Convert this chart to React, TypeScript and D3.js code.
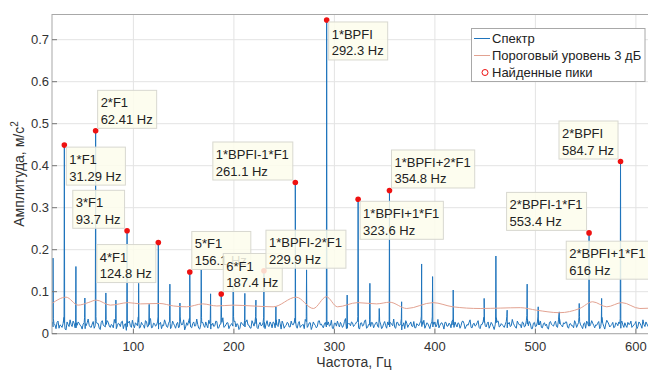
import React from "react";
import * as d3 from "d3";

const W = 648;
const H = 370;
const plot = { left: 52, top: 14.5, right: 656, bottom: 333.7 };
const FONT = "'Liberation Sans', Arial, sans-serif";

// labelled peaks (found peaks with data tips)
const peakNames = [
  "1*F1", "2*F1", "3*F1", "4*F1", "5*F1", "6*F1", "1*BPFI-2*F1", "1*BPFI-1*F1",
  "1*BPFI", "1*BPFI+1*F1", "1*BPFI+2*F1", "2*BPFI-1*F1", "2*BPFI", "2*BPFI+1*F1",
];
const peakFreqs = [31.29, 62.41, 93.7, 124.8, 156.1, 187.4, 229.9, 261.1, 292.3, 323.6, 354.8, 553.4, 584.7, 616];
const peakAmps = [0.449, 0.483, 0.245, 0.217, 0.147, 0.0945, 0.15, 0.36, 0.747, 0.32, 0.341, 0.24, 0.41, 0.225];
const tipSides = ["se", "ne", "nw", "sw", "ne", "ne", "ne", "nw", "se", "se", "ne", "nw", "nw", "sw"];

// smaller spectral lines without tips
const minorFreqs = [
  20, 42.8, 51.7, 72.6, 82.6, 105.2, 115.7, 136.3, 146.3, 167.5, 176.8, 199.3, 210.9, 221.9,
  241.8, 272.3, 312.7, 335.3, 344.6, 366.9, 386.8, 397.7, 418.2, 449, 460.7, 471.9, 491.8,
  502.8, 523.7, 543.6, 565.9,
];
const minorAmps = [
  0.18, 0.16, 0.085, 0.097, 0.08, 0.12, 0.07, 0.118, 0.073, 0.154, 0.095, 0.113, 0.096, 0.08,
  0.064, 0.152, 0.092, 0.12, 0.06, 0.076, 0.166, 0.136, 0.104, 0.084, 0.185, 0.056, 0.118,
  0.064, 0.052, 0.072, 0.084,
];

// noise floor, thousandths of m/s^2: even bins from 19 Hz, odd bins from 20 Hz, 2 Hz apart
const noiseStep = 2;
const noiseStartA = 19;
const noiseMilliA = [
  18, 24, 12, 30, 21, 15, 27, 9, 22, 33, 17, 25, 14, 28, 20,
  11, 26, 19, 35, 16, 23, 13, 29, 24, 10, 31, 18, 22, 27, 15,
  20, 34, 12, 25, 17, 30, 21, 8, 26, 19, 32, 14, 23, 28, 16,
  22, 13, 29, 18, 36, 15, 24, 20, 11, 27, 21, 33, 17, 25, 12,
  30, 19, 23, 14, 28, 22, 9, 26, 31, 16, 24, 18, 35, 13, 21,
  27, 15, 20, 32, 11, 25, 19, 29, 14, 23, 38, 17, 26, 12, 22,
  18, 30, 24, 10, 27, 21, 16, 33, 20, 13, 25, 29, 15, 22, 19,
  26, 12, 31, 17, 23, 28, 14, 20, 35, 11, 24, 18, 27, 16, 30,
  21, 25, 13, 29, 19, 22, 34, 15, 26, 10, 28, 20, 17, 31, 23,
  14, 27, 21, 18, 32, 12, 25, 30, 16, 22, 19, 36, 13, 24, 28,
  17, 23, 29, 11, 26, 20, 33, 15, 21, 27, 14, 25, 18, 30, 12,
  24, 19, 28, 16, 22, 35, 13, 27, 20, 9, 26, 31, 15, 23, 18,
  29, 14, 21, 25, 17, 32, 19, 24, 12, 28, 22, 16, 34, 20, 26,
  11, 27, 18, 23, 30, 15, 21, 26, 13, 29, 24, 17, 20, 33, 14,
  25, 20, 31, 12, 22, 27, 16, 28, 19, 23, 10, 26, 30, 18, 21,
  15, 29, 23, 17, 34, 20, 13, 25, 22, 28, 16, 31, 19, 24, 12,
  27, 18, 21, 30, 14, 26, 23, 11, 29, 20, 25, 17, 33, 22, 16,
  23, 28, 13, 24, 19, 31, 15, 27, 21, 12, 26, 30, 18, 22, 25,
  14, 20, 29, 17, 25, 11, 32, 23, 19, 27, 16, 24, 28, 13, 21,
  26, 15, 22, 30, 18, 24, 12, 28, 20, 33, 17, 23, 14, 27, 19,
];
const noiseStartB = 20;
const noiseMilliB = [
  16, 21, 27, 13, 19, 24, 11, 28, 17, 22, 30, 14, 20, 25, 18,
  23, 12, 26, 20, 15, 29, 19, 24, 13, 27, 21, 16, 31, 18, 22,
  14, 25, 19, 23, 28, 12, 24, 17, 30, 15, 21, 26, 19, 13, 27,
  20, 31, 16, 22, 14, 25, 18, 28, 23, 12, 19, 26, 15, 30, 17,
  24, 13, 27, 18, 21, 33, 16, 20, 25, 14, 28, 19, 22, 11, 26,
  19, 28, 14, 24, 20, 17, 30, 13, 22, 27, 15, 21, 26, 18, 24,
  29, 16, 22, 13, 25, 19, 28, 21, 14, 31, 18, 24, 12, 27, 20,
  15, 23, 19, 28, 14, 26, 21, 17, 24, 30, 13, 20, 25, 16, 22,
  27, 18, 24, 15, 21, 12, 29, 19, 26, 17, 23, 14, 30, 21, 18,
  23, 16, 28, 20, 13, 25, 18, 22, 27, 15, 29, 12, 24, 19, 26,
  21, 28, 14, 25, 18, 30, 13, 22, 17, 26, 20, 28, 15, 23, 16,
  29, 13, 21, 26, 19, 15, 27, 20, 24, 18, 12, 25, 21, 28, 17,
  14, 24, 19, 30, 22, 13, 26, 18, 23, 16, 28, 21, 14, 25, 20,
  27, 18, 25, 14, 21, 28, 16, 24, 19, 30, 12, 22, 27, 15, 23,
  18, 26, 15, 22, 29, 20, 24, 13, 27, 17, 21, 28, 16, 24, 19,
  22, 14, 27, 19, 25, 16, 30, 21, 14, 26, 18, 23, 29, 12, 25,
  17, 28, 21, 15, 24, 19, 13, 27, 22, 18, 30, 15, 24, 20, 26,
  28, 16, 23, 19, 14, 26, 21, 29, 17, 24, 13, 25, 18, 31, 20,
  21, 25, 12, 27, 18, 23, 28, 16, 22, 14, 26, 19, 24, 30, 15,
  19, 27, 23, 15, 21, 29, 17, 25, 13, 22, 28, 18, 26, 14, 24,
];

// threshold curve (3 dB above smoothed spectrum)
const thrFreqs = [
  19, 33, 45, 55, 63, 77, 95, 107, 126, 140, 153, 169, 183, 199, 219, 239, 262, 279, 292,
  303, 323, 342, 355, 372, 398, 418, 445, 465, 485, 501, 524, 544, 557, 571, 586, 604, 620,
];
const thrAmps = [
  0.072, 0.087, 0.068, 0.074, 0.08, 0.068, 0.074, 0.071, 0.072, 0.066, 0.064, 0.071, 0.066,
  0.068, 0.066, 0.064, 0.087, 0.06, 0.088, 0.064, 0.074, 0.071, 0.075, 0.06, 0.074, 0.064,
  0.06, 0.061, 0.062, 0.056, 0.05, 0.06, 0.076, 0.064, 0.074, 0.06, 0.062,
];

const xTicks = [100, 200, 300, 400, 500, 600];
const yTicks = [0, 0.1, 0.2, 0.3, 0.4, 0.5, 0.6, 0.7];
const legendLabels = ["Спектр", "Пороговый уровень 3 дБ", "Найденные пики"];

const xScale = d3.scaleLinear().domain([19, 620]).range([plot.left, plot.right]);
const yScale = d3.scaleLinear().domain([0, 0.76]).range([plot.bottom, plot.top]);

const measure = (() => {
  const ctx = document.createElement("canvas").getContext("2d");
  return (s: string) => {
    if (!ctx) return s.length * 7;
    ctx.font = "13px 'Liberation Sans'";
    return ctx.measureText(s).width;
  };
})();

type Pt = { f: number; v: number };

const App = () => {
  const noise: Pt[] = [
    ...noiseMilliA.map((m, i) => ({ f: noiseStartA + i * noiseStep, v: m / 1000 })),
    ...noiseMilliB.map((m, i) => ({ f: noiseStartB + i * noiseStep, v: m / 1000 })),
  ].sort((a, b) => a.f - b.f);
  const allPeaks: Pt[] = [
    ...peakFreqs.map((f, i) => ({ f, v: peakAmps[i] })),
    ...minorFreqs.map((f, i) => ({ f, v: minorAmps[i] })),
  ];
  const pts = [...noise];
  allPeaks.forEach((p) => {
    const i = Math.max(0, Math.min(noise.length - 2, Math.floor(p.f - noise[0].f)));
    pts.push({ f: p.f - 0.3, v: noise[i].v + 0.012 });
    pts.push({ f: p.f, v: p.v });
    pts.push({ f: p.f + 0.3, v: noise[i + 1].v + 0.012 });
  });
  pts.sort((a, b) => a.f - b.f);

  const line = d3
    .line<Pt>()
    .x((d) => xScale(d.f))
    .y((d) => yScale(d.v));
  const thrLine = d3
    .line<number>()
    .x((d, i) => xScale(thrFreqs[i]))
    .y((d) => yScale(d))
    .curve(d3.curveMonotoneX);
  const fmt = d3.format(".4~g");

  return (
    <svg
      width={W}
      height={H}
      style={{ position: "absolute", left: 0, top: 0, background: "#fff", fontFamily: FONT }}
    >
      <defs>
        <clipPath id="plotclip">
          <rect x={plot.left} y={plot.top} width={plot.right - plot.left} height={plot.bottom - plot.top} />
        </clipPath>
      </defs>
      {/* grid */}
      {xTicks.map((t) => (
        <line key={"gx" + t} x1={xScale(t)} x2={xScale(t)} y1={plot.top} y2={plot.bottom} stroke="#e3e3e3" />
      ))}
      {yTicks.map((t) => (
        <line key={"gy" + t} x1={plot.left} x2={plot.right} y1={yScale(t)} y2={yScale(t)} stroke="#e3e3e3" />
      ))}

      <g clipPath="url(#plotclip)">
        <path d={line(pts) || ""} fill="none" stroke="#1f74bc" strokeWidth={1} />
        <path d={thrLine(thrAmps) || ""} fill="none" stroke="#e2a291" strokeWidth={1} />
        {peakFreqs.map((f, i) => (
          <circle key={"pk" + i} cx={xScale(f)} cy={yScale(peakAmps[i])} r={2.8} fill="#ee1111" />
        ))}
      </g>

      {/* axes box */}
      <rect
        x={plot.left}
        y={plot.top}
        width={plot.right - plot.left}
        height={plot.bottom - plot.top}
        fill="none"
        stroke="#a8a8a8"
      />
      {xTicks.map((t) => (
        <g key={"tx" + t}>
          <line x1={xScale(t)} x2={xScale(t)} y1={plot.bottom} y2={plot.bottom - 5} stroke="#777" />
          <text x={xScale(t)} y={351} textAnchor="middle" fontSize={13} fill="#333">
            {t}
          </text>
        </g>
      ))}
      {yTicks.map((t) => (
        <g key={"ty" + t}>
          <line x1={plot.left} x2={plot.left + 5} y1={yScale(t)} y2={yScale(t)} stroke="#777" />
          <text x={49} y={yScale(t) + 4.5} textAnchor="end" fontSize={13} fill="#333">
            {t}
          </text>
        </g>
      ))}
      <text x={354} y={367} textAnchor="middle" fontSize={14} fill="#333">
        Частота, Гц
      </text>
      <text transform={`translate(24,174) rotate(-90)`} textAnchor="middle" fontSize={14} fill="#333">
        Амплитуда, м/с
        <tspan dy={-6} fontSize={10}>
          2
        </tspan>
      </text>

      {/* data tips */}
      {peakNames.map((name, i) => {
        const l2 = fmt(peakFreqs[i]) + " Hz";
        const bw = Math.max(measure(name), measure(l2)) + 7;
        const bh = 38;
        const px = xScale(peakFreqs[i]);
        const py = yScale(peakAmps[i]);
        const side = tipSides[i];
        const bx = side[1] === "e" ? px + 2 : px - 2.5 - bw;
        const by = side[0] === "n" ? py - 2.5 - bh : py + 2;
        return (
          <g key={"tip" + i}>
            <rect x={bx} y={by} width={bw} height={bh} fill="#fdfdec" fillOpacity={0.85} stroke="#d8d8d0" />
            <text x={bx + 3} y={by + 17} fontSize={13} fill="#222">
              {name}
            </text>
            <text x={bx + 3} y={by + 33.5} fontSize={13} fill="#222">
              {l2}
            </text>
          </g>
        );
      })}

      {/* legend */}
      <g>
        <rect x={471.5} y={28.5} width={173.5} height={53} fill="#fff" stroke="#a8a8a8" />
        {legendLabels.map((s, i) => {
          const cy = 38.5 + i * 17;
          return (
            <g key={"lg" + i}>
              {i === 0 && <line x1={474} x2={490} y1={cy} y2={cy} stroke="#1f74bc" />}
              {i === 1 && <line x1={474} x2={490} y1={cy} y2={cy} stroke="#e2a291" />}
              {i === 2 && <circle cx={485} cy={cy} r={3} fill="none" stroke="#ee1111" />}
              <text x={492} y={cy + 4.5} fontSize={13} fill="#222">
                {s}
              </text>
            </g>
          );
        })}
      </g>
    </svg>
  );
};

export default App;
